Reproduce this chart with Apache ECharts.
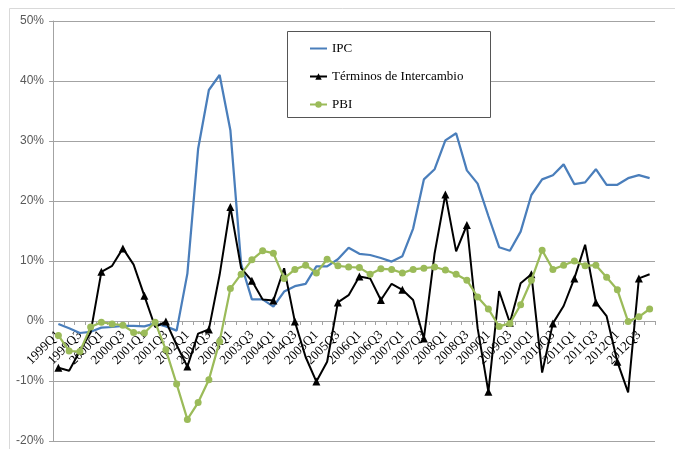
<!DOCTYPE html>
<html>
<head>
<meta charset="utf-8">
<script src="https://cdn.jsdelivr.net/npm/echarts@6/dist/echarts.min.js"></script>
<style>
  html, body { margin: 0; padding: 0; background: #fff; }
  #chart { width: 675px; height: 449px; }
</style>
</head>
<body>
<div id="chart"></div>
<script>
// Quarterly periods, 1999Q1 - 2012Q4
const quarters = [
  '1999Q1','1999Q2','1999Q3','1999Q4','2000Q1','2000Q2','2000Q3','2000Q4',
  '2001Q1','2001Q2','2001Q3','2001Q4','2002Q1','2002Q2','2002Q3','2002Q4',
  '2003Q1','2003Q2','2003Q3','2003Q4','2004Q1','2004Q2','2004Q3','2004Q4',
  '2005Q1','2005Q2','2005Q3','2005Q4','2006Q1','2006Q2','2006Q3','2006Q4',
  '2007Q1','2007Q2','2007Q3','2007Q4','2008Q1','2008Q2','2008Q3','2008Q4',
  '2009Q1','2009Q2','2009Q3','2009Q4','2010Q1','2010Q2','2010Q3','2010Q4',
  '2011Q1','2011Q2','2011Q3','2011Q4','2012Q1','2012Q2','2012Q3','2012Q4'
];

// Year-on-year variation, in percent
const ipc = [
  -0.5, -1.2, -2.0, -1.8, -1.1, -1.0, -0.8, -0.8,
  -0.9, -0.4, -0.9, -1.6, 7.9, 28.7, 38.5, 41.0,
  31.8, 9.5, 3.6, 3.6, 2.4, 4.9, 5.8, 6.2,
  9.1, 9.1, 10.3, 12.2, 11.2, 11.0, 10.5, 9.9,
  10.8, 15.4, 23.6, 25.3, 30.1, 31.3, 25.1, 22.9,
  17.5, 12.3, 11.7, 14.9, 21.0, 23.6, 24.3, 26.1,
  22.8, 23.1, 25.3, 22.7, 22.7, 23.8, 24.3, 23.8
];

const terminos = [
  -7.8, -8.3, -5.0, -1.9, 8.2, 9.2, 12.1, 9.4,
  4.2, -1.0, -0.1, -4.0, -7.6, -2.1, -1.4, 7.7,
  19.0, 8.8, 6.7, 3.6, 3.4, 8.8, -0.1, -6.0,
  -10.1, -6.8, 3.1, 4.3, 7.4, 7.1, 3.5, 6.2,
  5.2, 3.5, -2.9, 11.3, 21.1, 11.6, 16.0, -1.2,
  -11.8, 5.0, -0.3, 6.3, 7.8, -8.6, -0.4, 2.5,
  7.1, 12.7, 3.1, 0.8, -6.8, -11.9, 7.1, 7.8
];

const pbi = [
  -2.4, -5.0, -5.1, -1.0, -0.2, -0.5, -0.7, -1.9,
  -2.0, -0.2, -4.8, -10.5, -16.4, -13.6, -9.8, -3.4,
  5.4, 7.8, 10.2, 11.7, 11.3, 7.1, 8.6, 9.3,
  8.0, 10.3, 9.2, 9.0, 8.9, 7.8, 8.7, 8.6,
  8.0, 8.6, 8.8, 9.0, 8.5, 7.8, 6.8, 4.0,
  2.0, -0.9, -0.4, 2.7, 6.8, 11.8, 8.6, 9.3,
  10.0, 9.2, 9.3, 7.3, 5.2, -0.1, 0.7, 2.0
];

// y-axis range and step, in percent
const yMin = -20;
const yMax = 50;
const yStep = 10;

const gridTop = 21;
const gridBottom = 8;
const chartHeight = 449;
const gridColor = '#a3a3a3';
const serif = '"Liberation Serif", "DejaVu Serif", serif';

// the category axis sits on the 0% line: shift it up from the grid bottom
const plotHeight = chartHeight - gridTop - gridBottom;
const zeroOffset = plotHeight * (0 - yMin) / (yMax - yMin);

const chart = echarts.init(document.getElementById('chart'), null, { renderer: 'canvas' });

chart.setOption({
  animation: false,
  backgroundColor: '#ffffff',
  graphic: [
    {
      // outer chart frame
      type: 'rect',
      shape: { x: 9.5, y: 8.5, width: 700, height: 460 },
      style: { fill: 'none', stroke: '#d9d9d9', lineWidth: 1 },
      silent: true,
      z: -10
    },
    {
      // legend frame
      type: 'rect',
      shape: { x: 287.5, y: 31.5, width: 203, height: 86 },
      style: { fill: '#ffffff', stroke: '#555555', lineWidth: 1 },
      silent: true,
      z: 3
    }
  ],
  grid: {
    left: 53, right: 20, top: gridTop, bottom: gridBottom,
    containLabel: false,
    outerBoundsMode: 'none'
  },
  legend: {
    orient: 'vertical',
    left: 287,
    top: 31,
    z: 6,
    itemWidth: 17,
    itemHeight: 8,
    itemGap: 15,
    padding: [11, 29, 6, 22],
    borderWidth: 0,
    backgroundColor: 'transparent',
    textStyle: { fontFamily: serif, fontSize: 13, color: '#000' },
    data: [
      { name: 'IPC', itemStyle: { opacity: 0 } },
      'Términos de Intercambio',
      'PBI'
    ]
  },
  xAxis: {
    type: 'category',
    data: quarters,
    boundaryGap: true,
    position: 'bottom',
    offset: -zeroOffset,
    axisLine: { onZero: false, lineStyle: { color: gridColor, width: 1 } },
    axisTick: { show: true, interval: 0, length: 4, inside: false, lineStyle: { color: gridColor } },
    axisLabel: {
      interval: 1,
      rotate: 45,
      margin: 12,
      fontFamily: serif,
      fontSize: 13,
      color: '#000'
    },
    splitLine: { show: false }
  },
  yAxis: {
    type: 'value',
    min: yMin,
    max: yMax,
    interval: yStep,
    axisLine: { show: true, lineStyle: { color: gridColor } },
    axisTick: { show: true, length: 4, lineStyle: { color: gridColor } },
    axisLabel: {
      formatter: '{value}%',
      margin: 9,
      fontFamily: '"Liberation Sans", Arial, sans-serif',
      fontSize: 12,
      color: '#595959'
    },
    splitLine: { show: true, lineStyle: { color: gridColor, width: 1 } }
  },
  series: [
    {
      name: 'IPC',
      type: 'line',
      data: ipc,
      symbol: 'none',
      lineStyle: { color: '#4a7ebb', width: 2.25 },
      itemStyle: { color: '#4a7ebb' },
      z: 2
    },
    {
      name: 'Términos de Intercambio',
      type: 'line',
      data: terminos,
      symbol: 'triangle',
      symbolSize: 8,
      lineStyle: { color: '#000000', width: 2 },
      itemStyle: { color: '#000000' },
      z: 3
    },
    {
      name: 'PBI',
      type: 'line',
      data: pbi,
      symbol: 'circle',
      symbolSize: 7,
      lineStyle: { color: '#9bbb59', width: 2.25 },
      itemStyle: { color: '#9bbb59', borderWidth: 0 },
      z: 4
    }
  ]
});
</script>
</body>
</html>
